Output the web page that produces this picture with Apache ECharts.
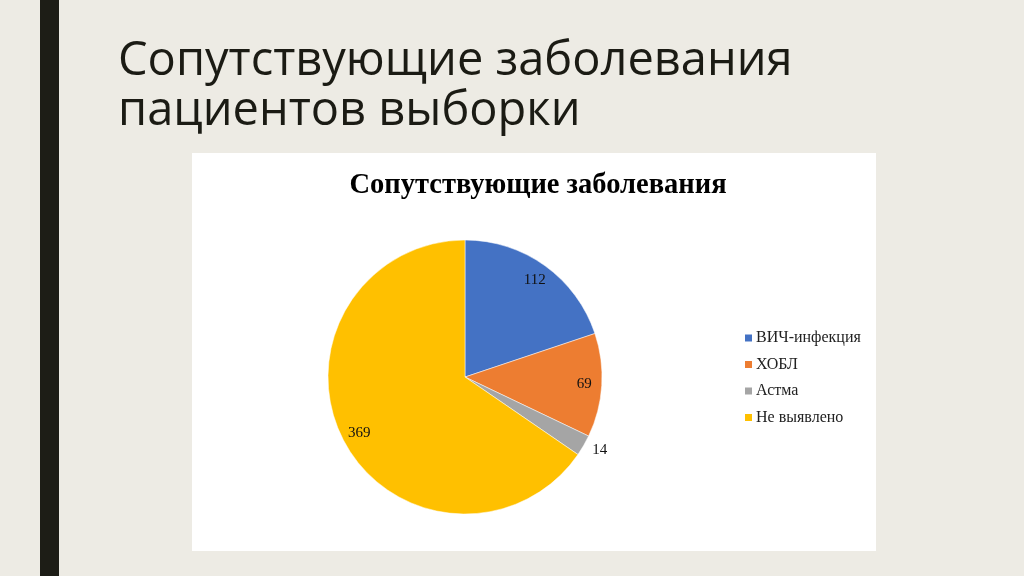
<!DOCTYPE html>
<html><head><meta charset="utf-8">
<script src="https://cdn.jsdelivr.net/npm/echarts@6/dist/echarts.min.js"></script>
<style>html,body{margin:0;padding:0;background:#EDEBE4;}#c{width:1024px;height:576px;}</style>
</head><body><div id="c"></div>
<script>
const categories = ['ВИЧ-инфекция', 'ХОБЛ', 'Астма', 'Не выявлено'];
const values = [112, 69, 14, 369];
const colors = ['#4472C4', '#ED7D31', '#A5A5A5', '#FFC000'];
const slideTitle = 'Сопутствующие заболевания\nпациентов выборки';
const chartTitle = 'Сопутствующие заболевания';

const chart = echarts.init(document.getElementById('c'));
const center = [465, 377];
const R = 137;
chart.setOption({
  backgroundColor: '#EDEBE4',
  animation: false,
  graphic: [
    { type: 'rect', shape: { x: 40, y: 0, width: 19, height: 576 }, style: { fill: '#1D1D16' } },
    { type: 'rect', shape: { x: 192, y: 153, width: 684, height: 398 }, style: { fill: '#FFFFFF' } }
  ],
  title: [
    { text: slideTitle, left: 113, top: 32,
      textStyle: { fontFamily: 'Open Sans', fontWeight: 'normal', fontSize: 47, lineHeight: 50, color: '#1B1B14' } },
    { text: chartTitle, left: 533, top: 166, textAlign: 'center',
      textStyle: { fontFamily: 'Liberation Serif', fontWeight: 'bold', fontSize: 28.5, color: '#000000' } }
  ],
  legend: {
    orient: 'vertical', left: 738, top: 325, itemWidth: 9, itemHeight: 9, itemGap: 10.5, icon: 'rect',
    data: categories,
    textStyle: { fontFamily: 'Liberation Serif', fontSize: 16, color: '#222222', padding: [0,0,0,-2] }
  },
  series: [
    { type: 'pie', center: center, radius: [0, R], startAngle: 90, clockwise: true,
      silent: true,
      label: { show: false }, labelLine: { show: false },
      itemStyle: { borderColor: '#FFFFFF', borderWidth: 0.5 },
      data: categories.map((n, i) => ({ name: n, value: values[i], itemStyle: { color: colors[i] } }))
    },
    { type: 'pie', center: center, radius: [R * 0.70, R], startAngle: 90, clockwise: true,
      silent: true, legendHoverLink: false,
      itemStyle: { color: 'rgba(0,0,0,0)' },
      label: { show: true, position: 'inside', formatter: '{c}', fontFamily: 'Liberation Serif', fontSize: 15, color: '#111111' },
      labelLine: { show: false },
      data: categories.map((n, i) => {
        const d = { name: n, value: values[i] };
        if (values[i] < 20) {
          d.label = { position: 'outside', distanceToLabelLine: 0 };
          d.labelLine = { show: false, length: 10, length2: 0 };
        }
        return d;
      })
    }
  ]
});
</script></body></html>
